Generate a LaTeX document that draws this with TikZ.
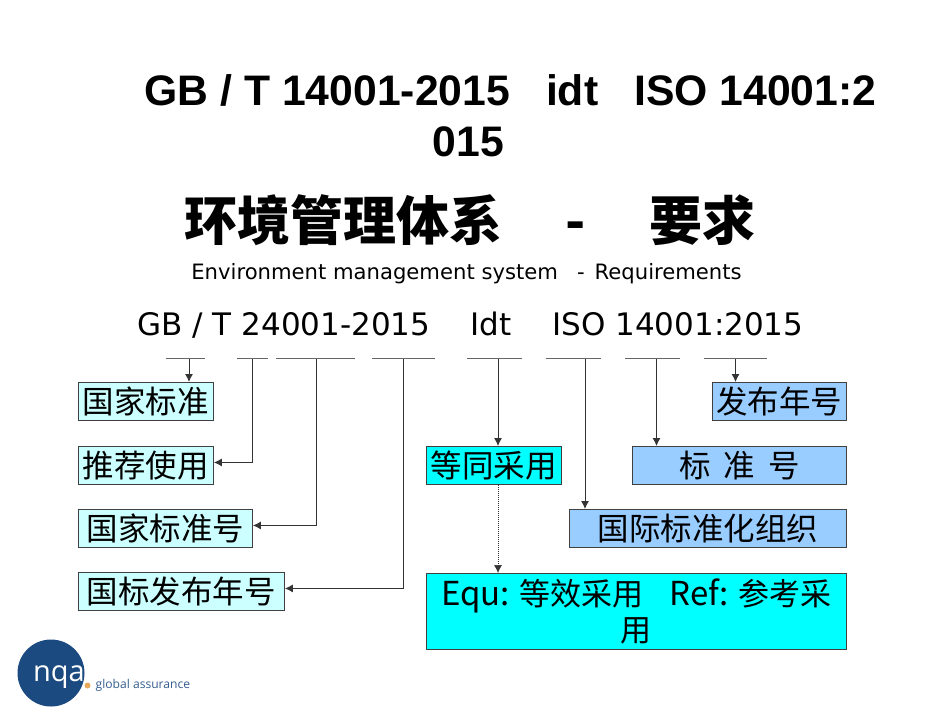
\documentclass[tikz,border=0pt]{standalone}
\usepackage{fontspec}
\usepackage{xcolor}
\setmainfont{DejaVu Sans}
\newfontfamily\cjk{Noto Sans CJK SC}
\newfontfamily\arial{Liberation Sans}
\usetikzlibrary{arrows.meta}
\definecolor{palecyan}{HTML}{CCFFFF}
\definecolor{fullcyan}{HTML}{00FFFF}
\definecolor{paleblue}{HTML}{99CCFF}
\definecolor{logoblue}{HTML}{1B4A80}
\definecolor{logoorange}{HTML}{E8A95A}
\tikzset{
  box/.style={draw=black!75, line width=0.9pt, inner sep=0pt, minimum height=38pt, anchor=north west, font=\fontsize{31.5}{31.5}\selectfont\cjk},
  arr/.style={-{Latex[length=8pt,width=8pt]}, black!80, line width=1pt},
  rule/.style={black!60, line width=1pt}
}
\begin{document}
\begin{tikzpicture}[x=1pt,y=-1pt]
  \useasboundingbox (0,0) rectangle (950,713);

  % titles
  \node[anchor=center, inner sep=0pt] (titlea) at (510.5,90) {\fontsize{42.7}{42.7}\selectfont\arial\bfseries GB / T 14001-2015\hspace{36pt}idt\hspace{36pt}ISO 14001:2};
  \node[anchor=center, inner sep=0pt] (titleb) at (468.5,142) {\fontsize{42.7}{42.7}\selectfont\arial\bfseries 015};
  \node[anchor=center, inner sep=0pt] (titlec) at (470,220) {\fontsize{53}{53}\selectfont\cjk\bfseries 环境管理体系\hspace{63pt}-\hspace{63pt}要求};
  \node[anchor=center, inner sep=0pt] (subtitle) at (466.5,274) {\fontsize{21.15}{21.15}\selectfont Environment management system\hspace{19pt}-\hspace{10pt}Requirements};
  \node[anchor=center, inner sep=0pt] (code) at (470.5,325) {\fontsize{31}{31}\selectfont GB / T 24001-2015\hspace{40pt}Idt\hspace{41pt}ISO 14001:2015};

  % rules under the code
  \foreach \xa/\xb in {166/205,237/268,276/355,372/435,467/522,546/601,625/680,704/767} {
    \draw[rule] (\xa,358.7) -- (\xb,358.7);
  }
  \coordinate (ta) at (189,358.7);
  \coordinate (tb) at (252.5,358.7);
  \coordinate (tc) at (316,358.7);
  \coordinate (td) at (403,358.7);
  \coordinate (te) at (498,358.7);
  \coordinate (tf) at (585,358.7);
  \coordinate (tg) at (656.5,358.7);
  \coordinate (th) at (735.5,358.7);

  % left boxes
  \node[box, fill=palecyan, minimum width=135pt] (biaozhun) at (78,382) {国家标准};
  \node[box, fill=palecyan, minimum width=135pt] (tuijian) at (78,446) {推荐使用};
  \node[box, fill=palecyan, minimum width=174pt] (guobiao) at (78,509) {国家标准号};
  \node[box, fill=palecyan, minimum width=206pt] (nianhao) at (78,572) {国标发布年号};

  % right boxes
  \node[box, fill=fullcyan, minimum width=135pt] (dengtong) at (426,446) {等同采用};
  \node[box, fill=paleblue, minimum width=134pt] (fabu) at (712,382) {发布年号};
  \node[box, fill=paleblue, minimum width=214pt] (hao) at (632,446) {标\hspace{13pt}准\hspace{13pt}号};
  \node[box, fill=paleblue, minimum width=277pt] (iso) at (569,509) {国际标准化组织};
  \node[box, fill=fullcyan, minimum width=420pt, minimum height=76pt, align=center] (equ) at (426,573)
    {\fontsize{33}{33}\selectfont Equ: {\fontsize{31}{33}\selectfont\cjk 等效采用}\hspace{26pt}Ref: {\fontsize{31}{33}\selectfont\cjk 参考采}\\[5pt]{\fontsize{31}{33}\selectfont\cjk 用}};

  % connectors
  \draw[arr] (ta) -- (ta |- biaozhun.north);
  \draw[arr] (tb) |- ([yshift=3pt]tuijian.east);
  \draw[arr] (tc) |- ([yshift=3pt]guobiao.east);
  \draw[arr] (td) |- ([yshift=3pt]nianhao.east);
  \draw[arr] (te) -- (te |- dengtong.north);
  \draw[arr] (tf) -- (tf |- iso.north);
  \draw[arr] (tg) -- (tg |- hao.north);
  \draw[arr] (th) -- (th |- fabu.north);
  \draw[arr, densely dotted, line width=0.7pt] (te |- dengtong.south) -- (te |- equ.north);

  % logo
  \fill[logoblue] (51,673) circle (33.5);
  \node[anchor=center, inner sep=0pt, text=white] (nqa) at (59,677) {\fontsize{29}{29}\selectfont\fontspec{Open Sans}nqa};
  \fill[logoorange] (87.5,685.5) circle (3);
  \node[anchor=west, inner sep=0pt, text=logoblue!90] (assurance) at (95.5,685) {\fontsize{12.1}{12.1}\selectfont\fontspec{Open Sans}global assurance};
\end{tikzpicture}
\end{document}
